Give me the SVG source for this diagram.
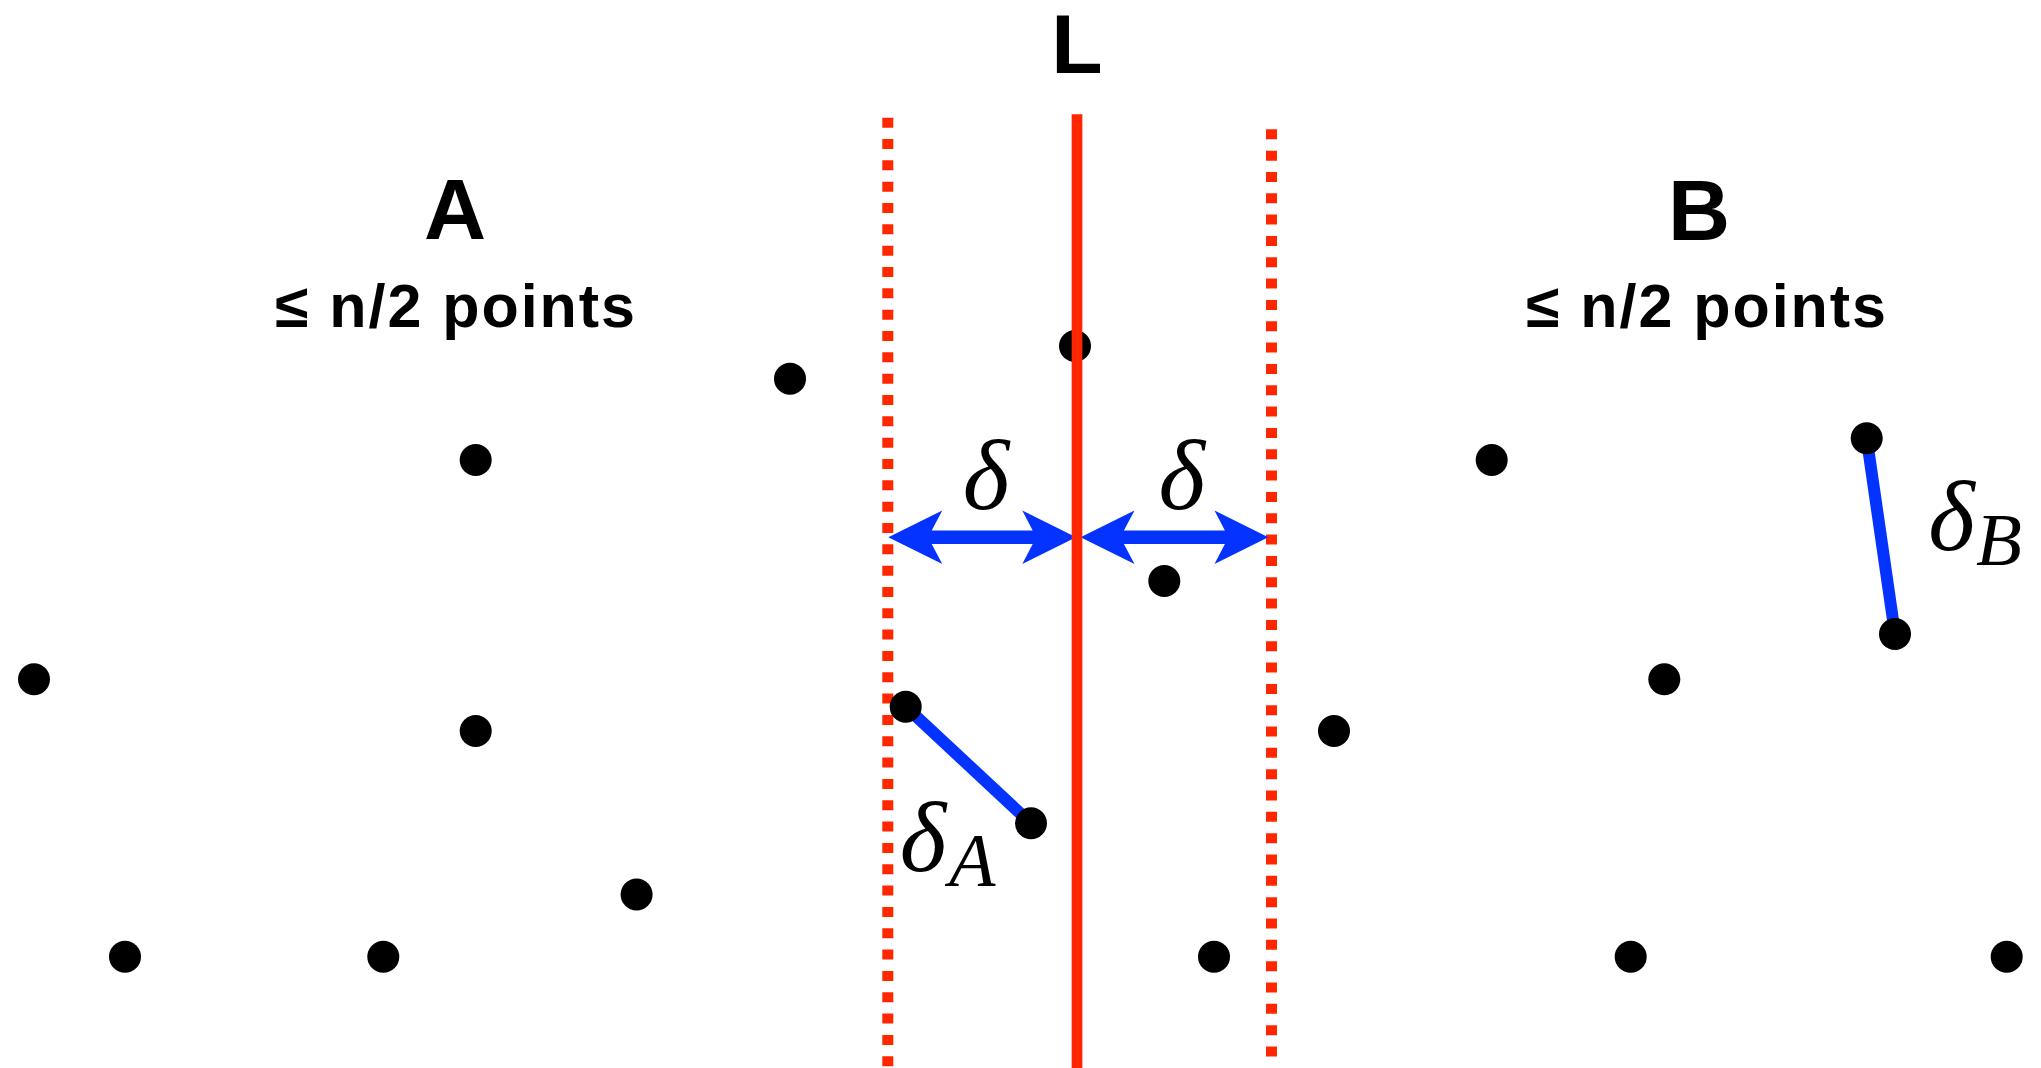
<svg xmlns="http://www.w3.org/2000/svg" width="2041" height="1068" viewBox="0 0 2041 1068">
  <style>
    .title { font-family: "Liberation Sans", Arial, sans-serif; font-weight: bold; fill: #000; text-anchor: middle; }
    .math { font-family: "Liberation Serif", "Times New Roman", serif; font-style: italic; fill: #000; }
    .dot { fill: #000; }
    .divider { stroke: #FF2600; stroke-width: 10.7; fill: none; }
    .strip { stroke: #FF2600; stroke-width: 11; stroke-dasharray: 10 11.33; fill: none; }
    .pair { stroke: #0433FF; stroke-width: 12; fill: none; }
    .arrow { fill: #0433FF; }
  </style>
  <defs>
    <!-- double-headed width arrow, tip to tip along +x, centred on y=0 -->
    <path id="dblArrow" d="M0,0 L54,-26.7 L43.4,-6.7 L144.4,-6.7 L134,-26.7 L187.8,0 L134,26.7 L144.4,6.7 L43.4,6.7 L54,26.7 Z"/>
  </defs>

  <rect width="2041" height="1068" fill="#fff"/>

  <!-- strip boundaries at distance delta from L -->
  <g id="strip-bounds">
    <line class="strip" x1="887.8" y1="117.7" x2="887.8" y2="1068"/>
    <line class="strip" x1="1271.5" y1="129.3" x2="1271.5" y2="1058"/>
  </g>

  <!-- point lying on the dividing line (drawn beneath it) -->
  <g id="point-on-L">
    <circle class="dot" cx="1075" cy="346" r="16"/>
  </g>

  <!-- connectors: width arrows and closest-pair segments -->
  <g id="connectors">
    <use href="#dblArrow" class="arrow" transform="translate(888.3,537.3)"/>
    <use href="#dblArrow" class="arrow" transform="translate(1080.5,537.3)"/>
    <line class="pair" x1="905.7" y1="706.7" x2="1031" y2="823.3"/>
    <line class="pair" x1="1866.7" y1="438.3" x2="1895" y2="634"/>
  </g>

  <!-- dividing line L -->
  <g id="divider-L">
    <line class="divider" x1="1077" y1="114.3" x2="1077" y2="1068"/>
    <text class="title" x="1077" y="73" font-size="84">L</text>
  </g>

  <!-- half A -->
  <g id="half-A">
    <text class="title" x="455" y="239" font-size="86">A</text>
    <text class="title" x="455" y="326.7" font-size="61" textLength="360">≤ n/2 points</text>
  </g>

  <!-- half B -->
  <g id="half-B">
    <text class="title" x="1699" y="240" font-size="86">B</text>
    <text class="title" x="1706" y="326.7" font-size="61" textLength="360">≤ n/2 points</text>
  </g>

  <!-- points of A -->
  <g id="points-A">
    <circle class="dot" cx="790" cy="378.8" r="16"/>
    <circle class="dot" cx="475.7" cy="460" r="16"/>
    <circle class="dot" cx="34" cy="679.3" r="16"/>
    <circle class="dot" cx="475.7" cy="731" r="16"/>
    <circle class="dot" cx="636.6" cy="894.5" r="16"/>
    <circle class="dot" cx="125" cy="956.7" r="16"/>
    <circle class="dot" cx="383.3" cy="956.7" r="16"/>
    <circle class="dot" cx="905.7" cy="706.7" r="16"/>
    <circle class="dot" cx="1031" cy="823.3" r="16"/>
  </g>

  <!-- points of B -->
  <g id="points-B">
    <circle class="dot" cx="1164.3" cy="581" r="16"/>
    <circle class="dot" cx="1214" cy="956.7" r="16"/>
    <circle class="dot" cx="1491.7" cy="460" r="16"/>
    <circle class="dot" cx="1334" cy="731" r="16"/>
    <circle class="dot" cx="1664.3" cy="679.3" r="16"/>
    <circle class="dot" cx="1630.7" cy="956.7" r="16"/>
    <circle class="dot" cx="2006.7" cy="956.7" r="16"/>
    <circle class="dot" cx="1866.7" cy="438.3" r="16"/>
    <circle class="dot" cx="1895" cy="634" r="16"/>
  </g>

  <!-- distance labels -->
  <g id="labels">
    <text class="math" x="986" y="509" font-size="100" text-anchor="middle">δ</text>
    <text class="math" x="1181.7" y="509" font-size="100" text-anchor="middle">δ</text>
    <text class="math" x="923" y="871" font-size="100" text-anchor="middle">δ</text>
    <text class="math" x="949" y="886" font-size="76">A</text>
    <text class="math" x="1951.5" y="550" font-size="100" text-anchor="middle">δ</text>
    <text class="math" x="1976" y="565" font-size="75">B</text>
  </g>
</svg>
